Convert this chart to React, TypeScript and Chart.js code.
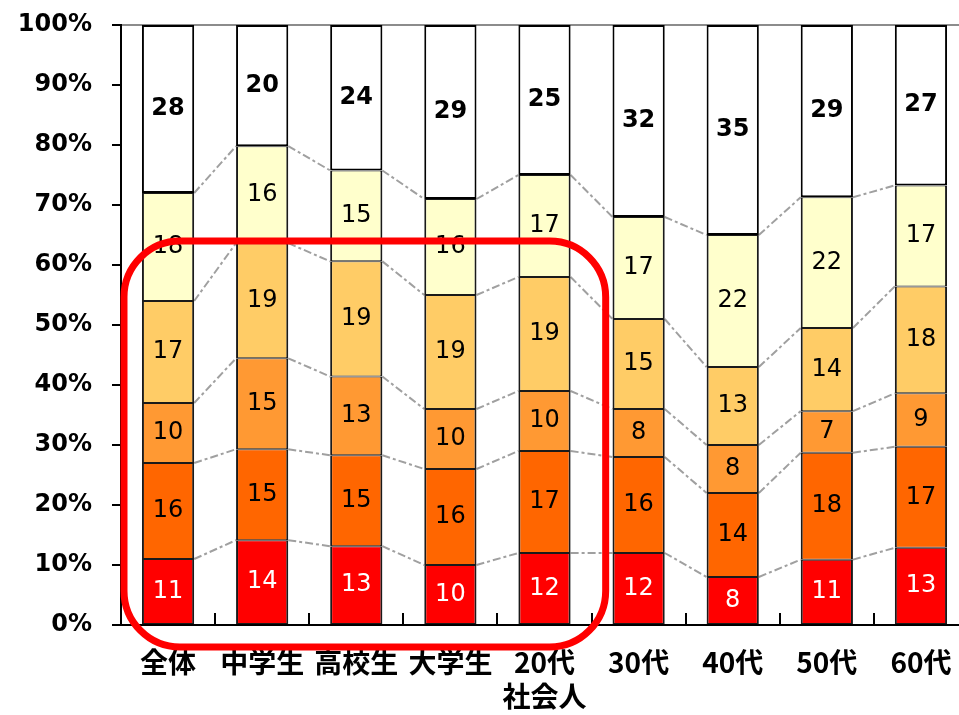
import { useEffect, useRef } from "react";
import { Chart, registerables } from "chart.js";

Chart.register(...registerables);

// Column groups (left to right)
const categories: (string | string[])[] = [
  "全体",
  "中学生",
  "高校生",
  "大学生",
  ["20代", "社会人"],
  "30代",
  "40代",
  "50代",
  "60代",
];

// Answer shares (%), stacked from the bottom of each column upward
const share1 = [11, 14, 13, 10, 12, 12, 8, 11, 13];
const share2 = [16, 15, 15, 16, 17, 16, 14, 18, 17];
const share3 = [10, 15, 13, 10, 10, 8, 8, 7, 9];
const share4 = [17, 19, 19, 19, 19, 15, 13, 14, 18];
const share5 = [18, 16, 15, 16, 17, 17, 22, 22, 17];
const share6 = [28, 20, 24, 29, 25, 32, 35, 29, 27];

const series = [share1, share2, share3, share4, share5, share6];
const fills = ["#FF0000", "#FF6600", "#FF9933", "#FFCC66", "#FFFFCC", "#FFFFFF"];

// Highlighted groups: last column inside the frame, top edge in %
const highlightLast = 4;
const highlightTop = 64;

// Each column is drawn as shares of its own total (100% stacked)
const totals = categories.map((_, i) => series.reduce((s, arr) => s + arr[i], 0));

const connectors = {
  id: "connectors",
  beforeDatasetsDraw(chart: any) {
    const ctx = chart.ctx;
    ctx.save();
    ctx.strokeStyle = "#A0A0A0";
    ctx.lineWidth = 2;
    ctx.setLineDash([8, 3, 3, 3]);
    for (let d = 0; d < series.length - 1; d++) {
      const bars = chart.getDatasetMeta(d).data;
      for (let i = 0; i < bars.length - 1; i++) {
        const a = bars[i];
        const b = bars[i + 1];
        ctx.beginPath();
        ctx.moveTo(a.x + a.width / 2, a.y);
        ctx.lineTo(b.x - b.width / 2, b.y);
        ctx.stroke();
      }
    }
    ctx.restore();
  },
};

const segmentLabels = {
  id: "segmentLabels",
  afterDatasetsDraw(chart: any) {
    const ctx = chart.ctx;
    ctx.save();
    ctx.textAlign = "center";
    ctx.textBaseline = "middle";
    series.forEach((values, d) => {
      const bars = chart.getDatasetMeta(d).data;
      ctx.font = d === series.length - 1 ? "bold 24px 'DejaVu Sans'" : "24px 'DejaVu Sans'";
      ctx.fillStyle = d === 0 ? "#FFFFFF" : "#000000";
      bars.forEach((bar: any, i: number) => {
        ctx.fillText(String(values[i]), bar.x, (bar.y + bar.base) / 2);
      });
    });
    ctx.restore();
  },
};

const axisMarksAndHighlight = {
  id: "axisMarksAndHighlight",
  afterDraw(chart: any) {
    const ctx = chart.ctx;
    const xs = chart.scales.x;
    const ys = chart.scales.y;
    const bottom = ys.getPixelForValue(0);
    ctx.save();
    // inward tick marks between the columns
    ctx.strokeStyle = "#000";
    ctx.lineWidth = 2;
    for (let i = 0; i < categories.length; i++) {
      const x = Math.round(xs.getPixelForValue(i + 0.5));
      ctx.beginPath();
      ctx.moveTo(x, bottom);
      ctx.lineTo(x, bottom - 12);
      ctx.stroke();
    }
    // rounded frame around the highlighted groups
    const left = chart.chartArea.left + 3;
    const right = xs.getPixelForValue(highlightLast + 0.65);
    const top = ys.getPixelForValue(highlightTop);
    const low = bottom + 22;
    const r = 56;
    ctx.strokeStyle = "#FF0000";
    ctx.lineWidth = 7;
    ctx.beginPath();
    ctx.moveTo(left + r, top);
    ctx.lineTo(right - r, top);
    ctx.arcTo(right, top, right, top + r, r);
    ctx.lineTo(right, low - r);
    ctx.arcTo(right, low, right - r, low, r);
    ctx.lineTo(left + r, low);
    ctx.arcTo(left, low, left, low - r, r);
    ctx.lineTo(left, top + r);
    ctx.arcTo(left, top, left + r, top, r);
    ctx.closePath();
    ctx.stroke();
    ctx.restore();
  },
};

export default function App() {
  const canvasRef = useRef<HTMLCanvasElement | null>(null);

  useEffect(() => {
    const canvas = canvasRef.current;
    if (!canvas) return;
    const chart = new Chart(canvas, {
      type: "bar",
      data: {
        labels: categories,
        datasets: series.map((values, d) => ({
          label: `share${d + 1}`,
          data: values.map((v, i) => (v / totals[i]) * 100),
          backgroundColor: fills[d],
          borderColor: d === series.length - 1 ? "#000000" : "#1A1A1A",
          borderWidth: d === series.length - 1 ? 2 : { left: 2, right: 2, top: 1, bottom: 1 },
          borderSkipped: false,
          barPercentage: 0.555,
          categoryPercentage: 1,
        })),
      },
      options: {
        responsive: false,
        maintainAspectRatio: false,
        animation: false,
        devicePixelRatio: 1,
        layout: { padding: { left: 0, right: 2, top: 25, bottom: 0 } },
        plugins: {
          legend: { display: false },
          tooltip: { enabled: false },
        },
        scales: {
          x: {
            stacked: true,
            grid: { display: false, drawTicks: false, offset: true },
            border: { display: true, color: "#000", width: 2 },
            ticks: {
              autoSkip: false,
              maxRotation: 0,
              minRotation: 0,
              padding: 21,
              color: "#000",
              font: { family: "'Noto Sans CJK JP'", size: 28, weight: "bold", lineHeight: 1.2 },
            },
            afterFit: (s: any) => {
              s.height = 90;
              s.paddingLeft = 0;
              s.paddingRight = 0;
            },
          },
          y: {
            stacked: true,
            min: 0,
            max: 100,
            grid: {
              display: true,
              drawOnChartArea: true,
              drawTicks: true,
              tickLength: 9,
              lineWidth: 2,
              tickWidth: 2,
              tickColor: "#000",
              color: (c: any) => (c.tick && c.tick.value === 100 ? "#8C8C8C" : "rgba(0,0,0,0)"),
            },
            border: { display: true, color: "#000", width: 2 },
            ticks: {
              stepSize: 10,
              padding: 20,
              color: "#000",
              font: { family: "'DejaVu Sans'", size: 24, weight: "bold" },
              callback: (v: any) => `${v}%`,
            },
            afterFit: (s: any) => {
              s.width = 121;
              s.paddingTop = 0;
              s.paddingBottom = 0;
            },
          },
        },
      },
      plugins: [connectors, segmentLabels, axisMarksAndHighlight],
    } as any);
    return () => chart.destroy();
  }, []);

  return (
    <div
      style={{
        position: "absolute",
        left: 0,
        top: 0,
        width: 959,
        height: 715,
        overflow: "hidden",
        background: "#fff",
      }}
    >
      <canvas ref={canvasRef} width={970} height={715} style={{ display: "block" }} />
    </div>
  );
}
